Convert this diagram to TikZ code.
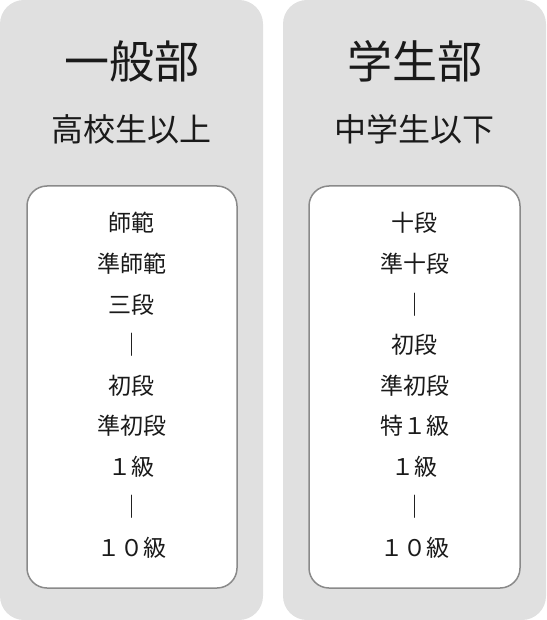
\documentclass[tikz,border=0pt]{standalone}
\usepackage{fontspec}
\setmainfont{Noto Sans CJK JP}
\definecolor{panelgray}{HTML}{E0E0E0}
\definecolor{boxline}{HTML}{8A8A8A}
\definecolor{ink}{HTML}{1A1A1A}
\tikzset{
  panel/.style={fill=panelgray, draw=none, rounded corners=24pt},
  listbox/.style={fill=white, draw=boxline, line width=1.5pt, rounded corners=20pt},
  title/.style={inner sep=0pt, text=ink, font=\fontsize{45}{50}\selectfont},
  subtitle/.style={inner sep=0pt, text=ink, font=\fontsize{32}{36}\selectfont},
  item/.style={inner sep=0pt, text=ink, font=\fontsize{23}{26}\selectfont}
}
\begin{document}
\begin{tikzpicture}[x=1pt,y=1pt]
\useasboundingbox (0,0) rectangle (546,-620);
% panels
\path[panel] (0,0) rectangle (263,-620);
\path[panel] (283,0) rectangle (546,-620);
\path[listbox] (27,-186) rectangle (237,-588);
\path[listbox] (309,-186) rectangle (520,-588);
% left panel
\node[title] (gtitle) at (131.5,-61) {一般部};
\node[subtitle] (gsub) at (131.5,-129) {高校生以上};
\node[item] (g1) at (131.5,-223) {師範};
\node[item] (g2) at (131.5,-264) {準師範};
\node[item] (g3) at (131.5,-305) {三段};
\node[item] (g4) at (131.5,-345) {｜};
\node[item] (g5) at (131.5,-386) {初段};
\node[item] (g6) at (131.5,-426) {準初段};
\node[item] (g7) at (131.5,-467) {１級};
\node[item] (g8) at (131.5,-507) {｜};
\node[item] (g9) at (131.5,-548) {１０級};
% right panel
\node[title] (stitle) at (414.5,-61) {学生部};
\node[subtitle] (ssub) at (414.5,-129) {中学生以下};
\node[item] (s1) at (414.5,-223) {十段};
\node[item] (s2) at (414.5,-264) {準十段};
\node[item] (s3) at (414.5,-305) {｜};
\node[item] (s4) at (414.5,-345) {初段};
\node[item] (s5) at (414.5,-386) {準初段};
\node[item] (s6) at (414.5,-426) {特１級};
\node[item] (s7) at (414.5,-467) {１級};
\node[item] (s8) at (414.5,-507) {｜};
\node[item] (s9) at (414.5,-548) {１０級};
\end{tikzpicture}
\end{document}
